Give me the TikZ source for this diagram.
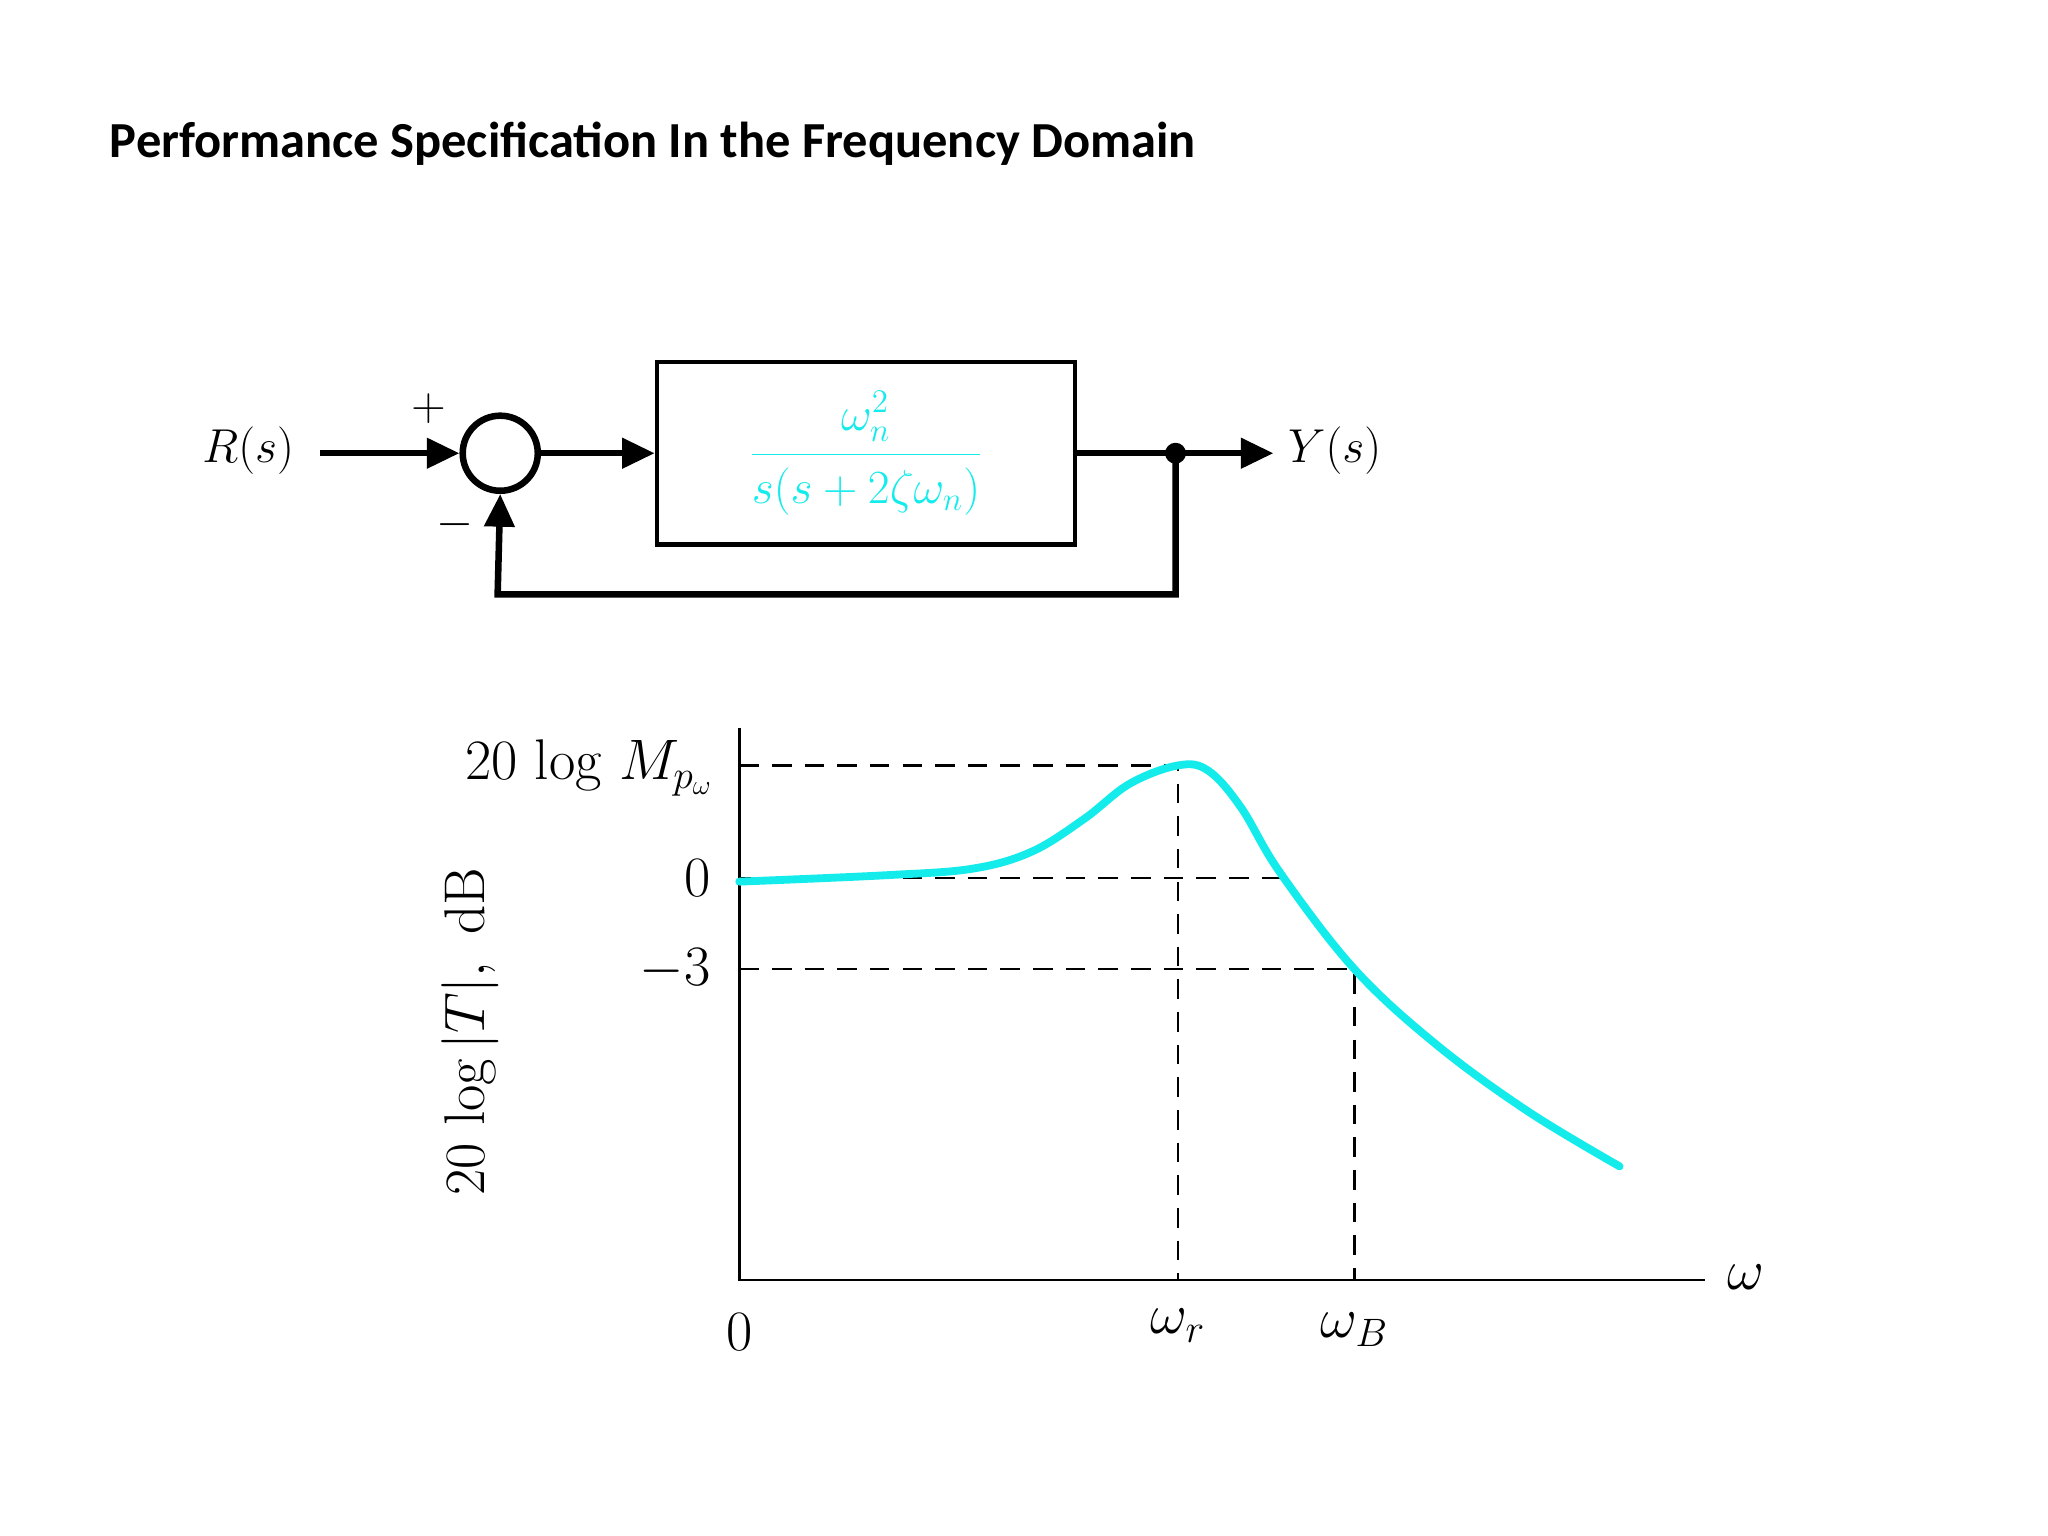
\documentclass[tikz,border=0pt]{standalone}
\usepackage{fontspec}
\newfontfamily\titlefont{Carlito}
\usetikzlibrary{arrows.meta}
\definecolor{aqua}{RGB}{20,235,235}
\begin{document}
\begin{tikzpicture}[x=0.02cm,y=-0.02cm,
  sig/.style={line width=0.1cm,-{Triangle[length=0.5cm,width=0.45cm]}},
  wire/.style={line width=0.1cm},
  dsh/.style={dashed,dash pattern=on 0.3cm off 0.2cm,line width=0.035cm},
  ax/.style={line width=0.045cm},
  lbl/.style={font=\fontsize{22}{24}\selectfont},
  big/.style={font=\fontsize{25}{28}\selectfont}]
\useasboundingbox (0,0) rectangle (1568,1176);
\node[anchor=west,font=\titlefont\bfseries\fontsize{22}{24}\selectfont] (title) at (78,110) {Performance Specification In the Frequency Domain};
% block diagram
\node[lbl] (R) at (190,345) {$R(s)$};
\coordinate (rin) at (245,347);
\node[circle,draw,line width=0.1cm,minimum size=1.15cm,inner sep=0] (sum) at (383,347) {};
\node[lbl] (plus) at (328,313) {$+$};
\node[lbl] (minus) at (348,402) {$-$};
\node[draw,line width=0.07cm,minimum width=6.4cm,minimum height=2.8cm] (G) at (663,347)
 {\color{aqua}\fontsize{22}{24}\selectfont$\displaystyle\frac{\omega_n^2\rule[-9pt]{0pt}{1pt}}{\rule{0pt}{20pt}s(s+2\zeta\omega_n)}$};
\coordinate (br) at (900,347);
\coordinate (out) at (975,347);
\node[lbl,anchor=west] (Y) at (980,345) {$Y(s)$};
\draw[sig] (rin) -- (sum.west);
\draw[sig] (sum.east) -- (G.west);
\draw[wire] (G.east) -- (br);
\draw[sig] (br) -- (out);
\fill (br) circle (0.16cm);
\coordinate (fb1) at (900,455);
\coordinate (fb2) at (381,455);
\draw[sig] (br) -- (fb1) -- (fb2) -- (sum.south);
% plot
\coordinate (O) at (566,980);
\coordinate (ytop) at (566,557);
\coordinate (xend) at (1305,980);
\draw[ax] (ytop) -- (O) -- (xend);
\coordinate (pk) at (902,586);
\coordinate (p0) at (980,672);
\coordinate (p3) at (1037,742);
\draw[dsh] (566,586) -- (pk) -- (902,980);
\draw[dsh] (566,672) -- (p0);
\draw[dsh] (566,742) -- (p3) -- (1037,980);
\draw[aqua,line width=0.12cm,line cap=round] plot[smooth,tension=0.6] coordinates
 {(566,675) (680,670) (745,665) (790,652) (830,627) (865,600) (902,586) (925,590) (950,618) (980,668) (1037,742) (1100,800) (1170,851) (1240,893)};
\node[big,anchor=east] (lM) at (552,588) {$20\ \mathrm{log}\ M_{p_\omega}$};
\node[big,anchor=east] (l0) at (550,672) {$0$};
\node[big,anchor=east] (l3) at (550,742) {$-3$};
\node[big,rotate=90] (ylab) at (360,790) {$20\ \mathrm{log}\,|T|,\ \mathrm{dB}$};
\node[big] (x0) at (566,1020) {$0$};
\node[big] (wr) at (902,1015) {$\omega_r$};
\node[big] (wB) at (1037,1018) {$\omega_B$};
\node[big] (w) at (1337,978) {$\omega$};
\end{tikzpicture}
\end{document}
